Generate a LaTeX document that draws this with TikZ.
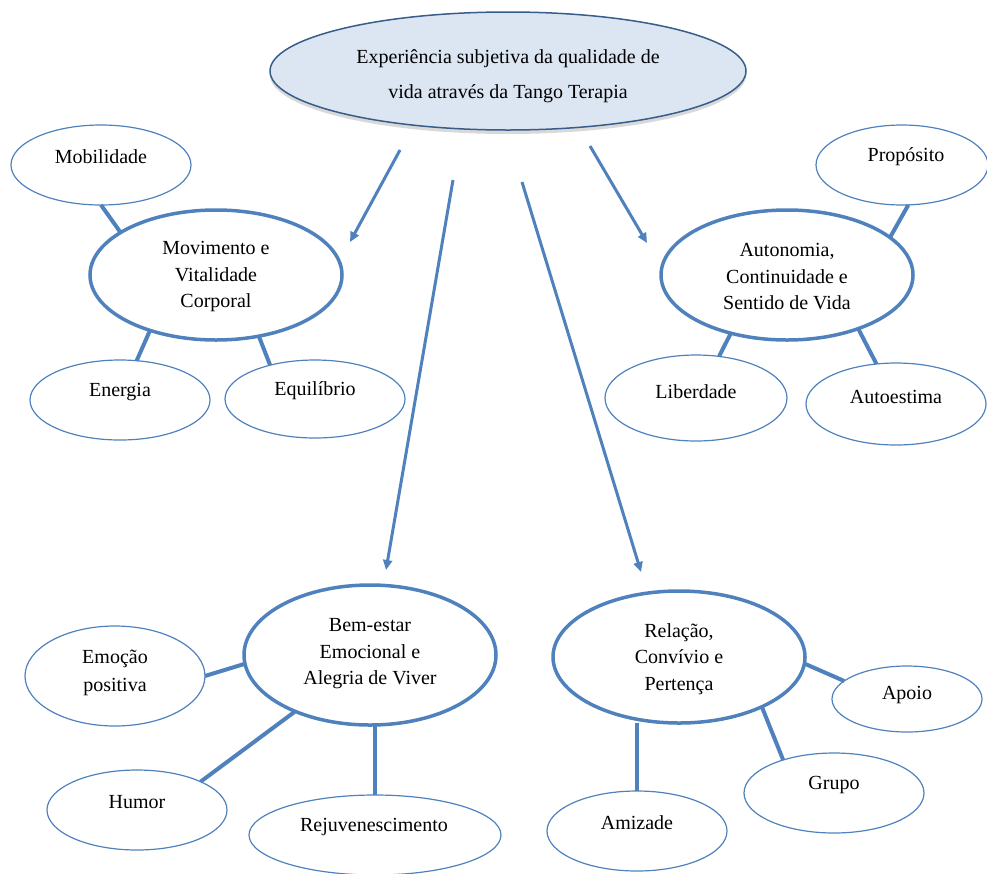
\documentclass[tikz,border=0pt]{standalone}
\usepackage{fontspec}
\setmainfont{Liberation Serif}
\usetikzlibrary{arrows.meta,shapes.geometric,shadows,calc}
\definecolor{cBlue}{RGB}{79,129,189}
\definecolor{cDark}{RGB}{56,93,138}
\definecolor{cFill}{RGB}{220,230,242}
\begin{document}
\begin{tikzpicture}[x=1pt,y=-1pt,
  ell/.style={ellipse, draw=cBlue, inner sep=0pt, outer sep=0pt},
  bigell/.style={ell, line width=3.5pt, minimum width=252pt},
  smallell/.style={ell, line width=1.2pt},
  txt/.style={font=\fontsize{20}{26.5}\selectfont, align=center, inner sep=0pt},
  link/.style={draw=cBlue, line width=4pt},
  arr/.style={draw=cBlue, line width=3pt, -{Triangle[length=10pt,width=9pt]}},
]
\useasboundingbox (0,0) rectangle (987,873);

% top ellipse
\node[ell, draw=cDark, line width=1.5pt, fill=cFill, minimum width=476pt, minimum height=118pt,
  drop shadow={shadow xshift=0pt, shadow yshift=-4pt, opacity=0.3, fill=gray}] (top) at (508,71) {};
\node[txt, font=\fontsize{20}{35}\selectfont] (topT) at (508,76) {Experiência subjetiva da qualidade de\\vida através da Tango Terapia};

% main ellipses
\node[bigell, minimum height=130pt] (mov) at (216,275) {};
\node[txt] (movT) at (216,277) {Movimento e\\Vitalidade\\Corporal};
\node[bigell, minimum height=130pt] (aut) at (787,275) {};
\node[txt] (autT) at (787,277) {Autonomia,\\Continuidade e\\Sentido de Vida};
\node[bigell, minimum height=140pt] (bem) at (370,655) {};
\node[txt] (bemT) at (370,654) {Bem-estar\\Emocional e\\Alegria de Viver};
\node[bigell, minimum height=132pt] (rel) at (679,657) {};
\node[txt] (relT) at (679,659) {Relação,\\Convívio e\\Pertença};

% small ellipses
\node[smallell, minimum width=180pt, minimum height=80pt] (mob) at (101,165) {};
\node[txt] (mobT) at (101,157) {Mobilidade};
\node[smallell, minimum width=180pt, minimum height=80pt] (ene) at (120,400) {};
\node[txt] (eneT) at (120,392) {Energia};
\node[smallell, minimum width=180pt, minimum height=78pt] (equ) at (315,399) {};
\node[txt] (equT) at (315,391) {Equilíbrio};
\node[smallell, minimum width=172pt, minimum height=80pt] (pro) at (902,165) {};
\node[txt] (proT) at (906,157) {Propósito};
\node[smallell, minimum width=182pt, minimum height=86pt] (lib) at (696,398) {};
\node[txt] (libT) at (696,392) {Liberdade};
\node[smallell, minimum width=180pt, minimum height=82pt] (est) at (896,404) {};
\node[txt] (estT) at (896,397) {Autoestima};
\node[smallell, minimum width=180pt, minimum height=100pt] (emo) at (115,676) {};
\node[txt, font=\fontsize{20}{28}\selectfont] (emoT) at (115,673) {Emoção\\positiva};
\node[smallell, minimum width=180pt, minimum height=80pt] (hum) at (137,810) {};
\node[txt] (humT) at (137,802) {Humor};
\node[smallell, minimum width=252pt, minimum height=80pt] (rej) at (375,835) {};
\node[txt] (rejT) at (374,827) {Rejuvenescimento};
\node[smallell, minimum width=150pt, minimum height=66pt] (apo) at (907,699) {};
\node[txt] (apoT) at (907,695) {Apoio};
\node[smallell, minimum width=180pt, minimum height=80pt] (gru) at (834,793) {};
\node[txt] (gruT) at (834,785) {Grupo};
\node[smallell, minimum width=180pt, minimum height=80pt] (ami) at (637,831) {};
\node[txt] (amiT) at (637,823) {Amizade};

% connectors
\draw[link] (mob.-90) -- (mov.156.8);
\draw[link] (ene.67.7) -- (mov.-140);
\draw[link] (equ.143.7) -- (mov.-55.9);
\draw[link] (pro.-81.5) -- (aut.20.2);
\draw[link] (lib.61.1) -- (aut.-134);
\draw[link] (est.116) -- (aut.-37.4);
\draw[link] (emo.0) -- (bem.-176.8);
\draw[link] (hum.24.7) -- (bem.-143.5);
\draw[link] (rej.north) -- (rej.north |- bem.south);
\draw[link] (rel.-3.6) -- (apo.164.1);
\draw[link] (rel.-31.6) -- (gru.147.9);
\draw[link] (ami.north) -- (ami.north |- rel.south);

% arrows
\coordinate (a1s) at (400,150); \coordinate (a1e) at (350,242);
\coordinate (a2s) at (453,180); \coordinate (a2e) at (386,570);
\coordinate (a3s) at (522,182); \coordinate (a3e) at (641,572);
\coordinate (a4s) at (590,146); \coordinate (a4e) at (647,243);
\draw[arr] (a1s) -- (a1e);
\draw[arr] (a2s) -- (a2e);
\draw[arr] (a3s) -- (a3e);
\draw[arr] (a4s) -- (a4e);
\end{tikzpicture}
\end{document}
